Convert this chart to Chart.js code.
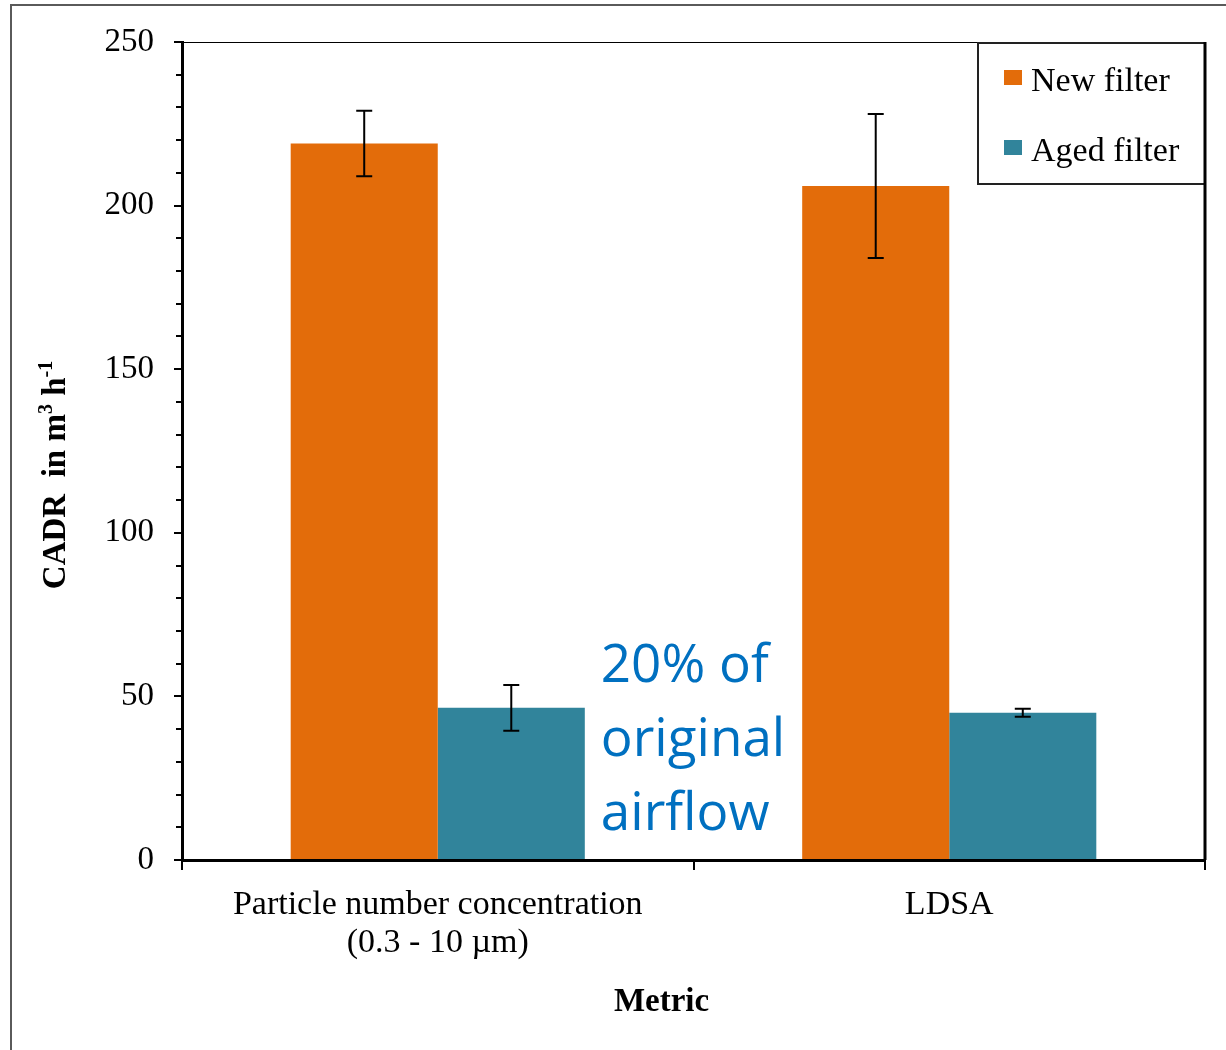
<!DOCTYPE html>
<html>
<head>
<meta charset="utf-8">
<script src="https://cdn.jsdelivr.net/npm/chart.js@4.4.1/dist/chart.umd.min.js"></script>
<style>
  html, body { margin: 0; padding: 0; background: #fff; }
  #wrap { position: relative; width: 1226px; height: 1050px; overflow: hidden; }
  #frame { position: absolute; left: 10px; top: 4px; right: -4px; bottom: -4px;
           border-left: 2px solid #5a5a5a; border-top: 2px solid #5a5a5a; }
  #c { position: absolute; left: 0; top: 0; }
</style>
</head>
<body>
<div id="wrap">
  <div id="frame"></div>
  <canvas id="c" width="1226" height="1050"></canvas>
</div>
<script>
// ---- data ----
const categories = [['Particle number concentration', '(0.3 - 10 \u00b5m)'], 'LDSA'];
const seriesNames = ['New filter', 'Aged filter'];
const newFilter = [219, 206];
const newFilterErr = [10, 22];
const agedFilter = [46.5, 45];
const agedFilterErr = [7, 1.2];
const yTicks = [0, 50, 100, 150, 200, 250];
const yMinorStep = 10;
const noteLines = ['20% of', 'original', 'airflow'];
const xTitle = 'Metric';

// ---- styles ----
const SERIF = '"Liberation Serif", "Times New Roman", serif';
const colors = ['#E36C0A', '#31849B'];

// error bars drawn from each dataset's "errors" array
const errorBars = {
  id: 'errorBars',
  afterDatasetsDraw(chart) {
    const ctx = chart.ctx, y = chart.scales.y;
    ctx.save();
    ctx.strokeStyle = '#000';
    ctx.lineWidth = 2;
    chart.data.datasets.forEach((ds, i) => {
      chart.getDatasetMeta(i).data.forEach((bar, j) => {
        const v = ds.data[j], e = ds.errors[j];
        const t = y.getPixelForValue(v + e), b = y.getPixelForValue(v - e);
        const x = bar.x, cap = 8;
        ctx.beginPath();
        ctx.moveTo(x, t); ctx.lineTo(x, b);
        ctx.moveTo(x - cap, t); ctx.lineTo(x + cap, t);
        ctx.moveTo(x - cap, b); ctx.lineTo(x + cap, b);
        ctx.stroke();
      });
    });
    ctx.restore();
  }
};

// minor y ticks, plot frame, titles, legend and note
const decorations = {
  id: 'decorations',
  afterDraw(chart) {
    const ctx = chart.ctx, a = chart.chartArea, y = chart.scales.y;
    ctx.save();

    // minor ticks
    ctx.strokeStyle = '#000';
    ctx.lineWidth = 2;
    ctx.beginPath();
    for (let v = y.min; v <= y.max; v += yMinorStep) {
      if (yTicks.includes(v)) continue;
      const py = Math.round(y.getPixelForValue(v));
      ctx.moveTo(a.left - 6, py); ctx.lineTo(a.left, py);
    }
    ctx.stroke();

    // top frame of the plot
    ctx.lineWidth = 1.2;
    ctx.beginPath();
    ctx.moveTo(a.left, a.top + 0.5); ctx.lineTo(a.right, a.top + 0.5);
    ctx.stroke();

    // legend box
    const bx = a.right - 228, by = a.top, bw = 228, bh = 142;
    ctx.fillStyle = '#fff';
    ctx.fillRect(bx, by, bw, bh);
    ctx.strokeStyle = '#222';
    ctx.lineWidth = 2;
    ctx.strokeRect(bx + 1, by + 1, bw - 1, bh - 1);
    ctx.font = '34px ' + SERIF;
    ctx.textBaseline = 'alphabetic';
    ctx.textAlign = 'left';
    chart.data.datasets.forEach((ds, i) => {
      const rowY = by + 49 + i * 70;
      ctx.fillStyle = ds.backgroundColor;
      ctx.fillRect(a.right - 201, rowY - 21, 18, 15);
      ctx.fillStyle = '#000';
      ctx.fillText(ds.label, a.right - 174, rowY);
    });

    // right frame line
    ctx.strokeStyle = '#000';
    ctx.lineWidth = 3;
    ctx.beginPath();
    ctx.moveTo(a.right, a.top); ctx.lineTo(a.right, a.bottom);
    ctx.stroke();

    // y-axis title with superscripts
    const parts = [
      { t: 'CADR  in m', s: false },
      { t: '3', s: true },
      { t: ' h', s: false },
      { t: '-1', s: true }
    ];
    const bigF = 'bold 33px ' + SERIF, smallF = 'bold 20px ' + SERIF;
    let total = 0;
    parts.forEach(p => { ctx.font = p.s ? smallF : bigF; total += ctx.measureText(p.t).width; });
    const cy = (a.top + a.bottom) / 2 + 24;
    ctx.translate(a.left - 117, cy + total / 2);
    ctx.rotate(-Math.PI / 2);
    ctx.fillStyle = '#000';
    let px = 0;
    parts.forEach(p => {
      ctx.font = p.s ? smallF : bigF;
      ctx.fillText(p.t, px, p.s ? -13 : 0);
      px += ctx.measureText(p.t).width;
    });
    ctx.setTransform(1, 0, 0, 1, 0, 0);

    // x-axis title
    ctx.font = 'bold 33px ' + SERIF;
    ctx.textAlign = 'center';
    ctx.fillText(xTitle, (a.left + a.right) / 2 - 32, a.bottom + 151);

    // note beside the first aged-filter bar
    const bar = chart.getDatasetMeta(1).data[0];
    const nx = bar.x + bar.width / 2 + 16;
    ctx.font = '53px "Open Sans", sans-serif';
    ctx.textAlign = 'left';
    ctx.fillStyle = '#0070C0';
    noteLines.forEach((line, i) => {
      ctx.fillText(line, nx, a.bottom - 178 + i * 74);
    });

    ctx.restore();
  }
};

new Chart(document.getElementById('c'), {
  type: 'bar',
  data: {
    labels: categories,
    datasets: [
      { label: seriesNames[0], data: newFilter, errors: newFilterErr, backgroundColor: colors[0] },
      { label: seriesNames[1], data: agedFilter, errors: agedFilterErr, backgroundColor: colors[1] }
    ]
  },
  options: {
    responsive: false,
    animation: false,
    devicePixelRatio: 1,
    layout: { padding: { left: 0, top: 42, right: 21, bottom: 0 } },
    datasets: { bar: { categoryPercentage: 0.575, barPercentage: 1.0, borderWidth: 0 } },
    plugins: { legend: { display: false }, tooltip: { enabled: false }, title: { display: false } },
    scales: {
      x: {
        afterFit(s) { s.height = 190; },
        grid: { offset: true, drawOnChartArea: false, drawTicks: true, tickLength: 10, color: '#000', lineWidth: 2 },
        border: { display: true, color: '#000', width: 3 },
        ticks: { color: '#000', padding: 16, font: { family: SERIF, size: 34, lineHeight: 1.12 } }
      },
      y: {
        min: 0, max: 250,
        afterFit(s) { s.width = 182; },
        afterBuildTicks(s) { s.ticks = yTicks.map(v => ({ value: v })); },
        grid: { drawOnChartArea: false, drawTicks: true, tickLength: 8, color: '#000', lineWidth: 2 },
        border: { display: true, color: '#000', width: 3 },
        ticks: { color: '#000', padding: 20, font: { family: SERIF, size: 33 } }
      }
    }
  },
  plugins: [errorBars, decorations]
});
</script>
</body>
</html>
